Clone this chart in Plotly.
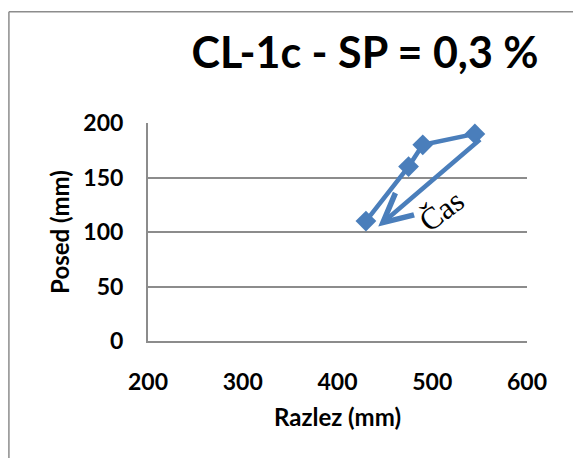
import plotly.graph_objects as go

# Measured settlement vs. spread for sample CL-1c
razlez = [430, 475, 490, 545]   # Razlez (mm)
posed = [110, 160, 180, 190]    # Posed (mm)

x_ticks = [200, 300, 400, 500, 600]
y_ticks = [0, 50, 100, 150, 200]

# Time-direction arrow (tail -> head) and its label
arrow_tail = (552, 186)
arrow_head = (443, 105)
arrow_label = "Čas"
label_pos = (510, 120)

title_text = "CL-1c - SP = 0,3 %"

blue = "#4A7EBB"
grid = "#8C8C8C"
font_family = "Lato"

fig = go.Figure()
fig.add_trace(go.Scatter(
    x=razlez, y=posed, mode="lines+markers",
    line=dict(color=blue, width=4.5),
    marker=dict(symbol="diamond", size=16, color=blue),
    showlegend=False,
))

fig.add_annotation(
    x=arrow_head[0], y=arrow_head[1], ax=arrow_tail[0], ay=arrow_tail[1],
    xref="x", yref="y", axref="x", ayref="y",
    showarrow=True, arrowhead=5, arrowsize=1.25, arrowwidth=4.5,
    arrowcolor=blue, text="",
)
fig.add_annotation(
    x=label_pos[0], y=label_pos[1], xref="x", yref="y",
    text=arrow_label, showarrow=False, textangle=-37,
    font=dict(family="Liberation Serif", size=31, color="black"),
)

# Chart-area frame (left and top edges)
fig.add_shape(type="line", xref="paper", yref="paper",
              x0=-0.367, x1=1.2, y0=1.51, y1=1.51,
              line=dict(color=grid, width=1.5))
fig.add_shape(type="line", xref="paper", yref="paper",
              x0=-0.367, x1=-0.367, y0=1.51, y1=-0.6,
              line=dict(color=grid, width=1.5))

tick_font = dict(family=font_family, size=23, color="black", weight="bold")
axis_title_font = dict(family=font_family, size=24, color="black", weight="bold")

fig.update_layout(
    width=573, height=458,
    margin=dict(l=148, r=46, t=123, b=117),
    paper_bgcolor="white", plot_bgcolor="white",
    title=dict(text=title_text, x=0.637, xref="container", xanchor="center",
               y=0.884, yref="container", yanchor="middle",
               font=dict(family=font_family, size=43, color="black", weight="bold")),
    xaxis=dict(range=[200, 600], tickvals=x_ticks, showgrid=False,
               showline=True, linecolor=grid, linewidth=2, zeroline=False,
               ticks="outside", ticklen=19, tickcolor="rgba(0,0,0,0)",
               tickfont=tick_font,
               title=dict(text="Razlez (mm)", font=axis_title_font, standoff=16)),
    yaxis=dict(range=[0, 200], tickvals=y_ticks, showgrid=True,
               gridcolor=grid, gridwidth=2,
               showline=True, linecolor=grid, linewidth=2, zeroline=False,
               ticks="outside", ticklen=18, tickcolor="rgba(0,0,0,0)",
               tickfont=tick_font,
               title=dict(text="Posed (mm)", font=axis_title_font, standoff=7)),
)

fig.write_html("out.html")
